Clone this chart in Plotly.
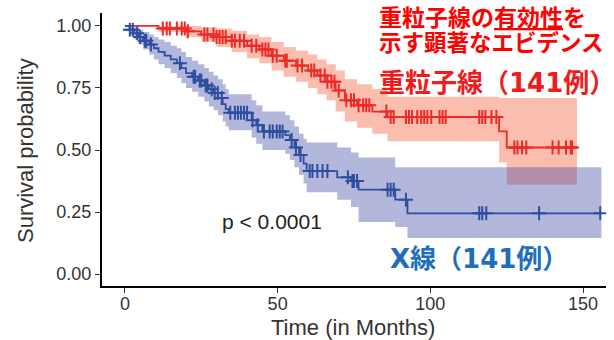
import numpy as np
import plotly.graph_objects as go

# ---- Heavy-ion (重粒子線) Kaplan-Meier steps ----
red_time = [0, 11, 20, 25, 30, 35, 40, 44, 48, 52, 56, 60, 63, 66, 69, 72, 76, 81, 86, 122.5, 125, 148]
red_surv = [1.0, 0.99, 0.978, 0.965, 0.955, 0.94, 0.92, 0.905, 0.88, 0.86, 0.84, 0.82, 0.80, 0.775, 0.74, 0.70, 0.68, 0.655, 0.633, 0.575, 0.51, 0.51]
red_lower = [1.0, 0.975, 0.955, 0.935, 0.915, 0.895, 0.87, 0.85, 0.82, 0.795, 0.775, 0.75, 0.725, 0.70, 0.655, 0.615, 0.59, 0.565, 0.535, 0.45, 0.36, 0.36]
red_upper = [1.0, 1.0, 1.0, 0.995, 0.99, 0.98, 0.965, 0.955, 0.935, 0.915, 0.90, 0.885, 0.865, 0.845, 0.82, 0.785, 0.765, 0.745, 0.715, 0.71, 0.71, 0.71]
red_censor = [12.4, 13.7, 14.7, 17, 18.6, 19.6, 20.6, 26, 27, 29, 30, 31, 32, 33, 35, 36, 37.6, 39, 41.5, 43,
              45, 46, 47, 48.4, 49.7, 52.5, 53, 56.5, 58, 61, 62, 64, 65.4, 66.3, 67.6, 68.6, 70, 72.5, 74, 75,
              76.5, 78, 79, 80, 85.6, 87, 88, 92, 93, 94, 95.7, 97, 98, 99, 100.3, 103, 104, 105, 116, 117, 118,
              120, 121.6, 127.5, 128.5, 130, 131.4, 140, 142, 144.4, 146, 146.4]

# ---- X-ray (X線) Kaplan-Meier steps ----
blue_time = [0, 1.5, 3, 4.5, 6, 8, 9.5, 11, 13, 15, 17, 18.5, 20, 22, 24, 26, 27.5, 29, 30.5, 32, 33, 34,
             41.5, 43, 45, 52.5, 54, 55.5, 57, 58.5, 59.5, 69.5, 74, 76.5, 88.5, 92.5, 156]
blue_surv = [1.0, 0.985, 0.97, 0.955, 0.94, 0.925, 0.91, 0.895, 0.88, 0.865, 0.85, 0.83, 0.81, 0.795, 0.78,
             0.76, 0.745, 0.73, 0.71, 0.685, 0.665, 0.65, 0.62, 0.60, 0.575, 0.56, 0.54, 0.51, 0.48, 0.445,
             0.415, 0.39, 0.375, 0.34, 0.30, 0.245, 0.245]
blue_lower = [1.0, 0.965, 0.945, 0.925, 0.905, 0.885, 0.865, 0.845, 0.83, 0.81, 0.79, 0.77, 0.75, 0.735, 0.715,
              0.695, 0.675, 0.66, 0.64, 0.615, 0.595, 0.58, 0.55, 0.525, 0.50, 0.485, 0.46, 0.43, 0.40, 0.365,
              0.33, 0.30, 0.27, 0.21, 0.19, 0.145, 0.145]
blue_upper = [1.0, 1.0, 0.995, 0.985, 0.975, 0.965, 0.955, 0.945, 0.935, 0.92, 0.91, 0.895, 0.875, 0.86, 0.845,
              0.83, 0.815, 0.80, 0.785, 0.765, 0.745, 0.725, 0.70, 0.68, 0.655, 0.64, 0.62, 0.595, 0.565, 0.545,
              0.53, 0.51, 0.49, 0.47, 0.43, 0.43, 0.43]
blue_censor = [1.6, 2.6, 4, 5, 6.5, 7, 8.5, 18, 22.5, 23, 24.5, 25, 26.5, 27, 28.4, 29.4, 30.4, 31.7, 34.5, 36,
               37, 38, 39, 40, 41.8, 43.5, 45.5, 47.4, 48.4, 49.7, 50.7, 51.6, 54.6, 56, 57.5, 60.5, 61.4,
               63, 64.7, 66.3, 73, 74.5, 75, 76, 86, 87, 88, 92, 116, 117, 118.3, 135.6, 155.6]

x_ticks = [0, 50, 100, 150]
y_ticks = [0.0, 0.25, 0.5, 0.75, 1.0]
y_ticklabels = ["0.00", "0.25", "0.50", "0.75", "1.00"]

RED = "#EE2A27"
BLUE = "#2E4FA0"


def step_at(times, vals, t):
    idx = np.searchsorted(np.asarray(times), np.asarray(t), side="right") - 1
    return np.asarray(vals)[idx]


fig = go.Figure()

# confidence bands
fig.add_trace(go.Scatter(x=red_time, y=red_lower, mode="lines", line=dict(width=0, shape="hv"),
                         showlegend=False, hoverinfo="skip"))
fig.add_trace(go.Scatter(x=red_time, y=red_upper, mode="lines", line=dict(width=0, shape="hv"),
                         fill="tonexty", fillcolor="rgba(245,112,78,0.46)", showlegend=False, hoverinfo="skip"))
fig.add_trace(go.Scatter(x=blue_time, y=blue_lower, mode="lines", line=dict(width=0, shape="hv"),
                         showlegend=False, hoverinfo="skip"))
fig.add_trace(go.Scatter(x=blue_time, y=blue_upper, mode="lines", line=dict(width=0, shape="hv"),
                         fill="tonexty", fillcolor="rgba(67,75,167,0.40)", showlegend=False, hoverinfo="skip"))

# survival curves
fig.add_trace(go.Scatter(x=red_time, y=red_surv, mode="lines", line=dict(color=RED, width=1.8, shape="hv"),
                         showlegend=False))
fig.add_trace(go.Scatter(x=blue_time, y=blue_surv, mode="lines", line=dict(color=BLUE, width=1.8, shape="hv"),
                         showlegend=False))

# censor marks
fig.add_trace(go.Scatter(x=red_censor, y=step_at(red_time, red_surv, red_censor), mode="markers",
                         marker=dict(symbol="cross-thin", size=10, line=dict(color=RED, width=2)),
                         showlegend=False))
fig.add_trace(go.Scatter(x=blue_censor, y=step_at(blue_time, blue_surv, blue_censor), mode="markers",
                         marker=dict(symbol="cross-thin", size=10, line=dict(color=BLUE, width=2)),
                         showlegend=False))

L, R, T, B = 102, 606, 13, 286
fig.update_layout(
    width=614, height=340,
    margin=dict(l=L, r=614 - R, t=T, b=340 - B),
    paper_bgcolor="white", plot_bgcolor="white",
    font=dict(family="Liberation Sans, Arial", color="#333333"),
    xaxis=dict(range=[-7.5, 157.5], tickvals=x_ticks, ticks="outside", ticklen=5, tickwidth=1.3,
               tickcolor="#333333", showline=True, linecolor="black", linewidth=2, showgrid=False,
               zeroline=False, tickfont=dict(size=18, color="#333333"), automargin=False,
               ticklabelstandoff=-5),
    yaxis=dict(range=[-0.048, 1.052], tickvals=y_ticks, ticktext=y_ticklabels, ticks="outside", ticklen=5,
               tickwidth=1.3, tickcolor="#333333", showline=True, linecolor="black", linewidth=2,
               showgrid=False, zeroline=False, tickfont=dict(size=18, color="#333333"), automargin=False),
)


def px_x(p):
    return (p - L) / (R - L)


def px_y(p):
    return (B - p) / (B - T)


MIX = "DejaVu Sans, Noto Sans CJK JP"
JP = "Noto Sans CJK JP"


def note(px, py, text, font, xanchor="center", angle=0):
    fig.add_annotation(x=px_x(px), y=px_y(py), xref="paper", yref="paper", text=text, showarrow=False,
                       xanchor=xanchor, yanchor="middle", textangle=angle, font=font)


# axis titles
note(353, 327, "Time (in Months)", dict(family="Liberation Sans, Arial", size=22, color="#333333"))
note(25, 151, "Survival probability", dict(family="Liberation Sans, Arial", size=22, color="#333333"),
     angle=-90)
note(272, 222, "p < 0.0001", dict(family="Liberation Sans, Arial", size=21, color="#222222"))
note(377, 16, "<b>重粒子線の<span style='text-decoration:underline'>有効性</span>を</b>",
     dict(family=JP, size=23, color="#FF0000"), xanchor="left")
note(377, 41, "<b>示す顕著なエビデンス</b>", dict(family=JP, size=22.5, color="#FF0000"), xanchor="left")
note(377, 83, "<b>重粒子線（141例）</b>", dict(family=MIX, size=26, color="#EE1C1C"), xanchor="left")
note(388, 259, "<b>X線（141例）</b>", dict(family=MIX, size=26, color="#1D6FBE"), xanchor="left")

fig.write_html("out.html", config={"displayModeBar": False},
               post_script="document.body.style.margin='0';document.body.style.overflow='hidden';")
